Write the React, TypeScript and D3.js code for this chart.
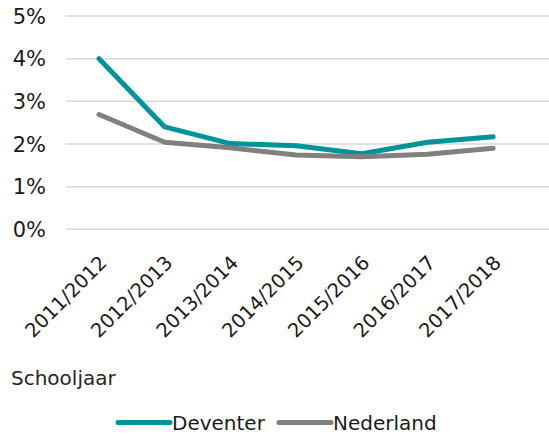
import React from "react";
import * as d3 from "d3";

const categories = ["2011/2012", "2012/2013", "2013/2014", "2014/2015", "2015/2016", "2016/2017", "2017/2018"];
const deventer = [0.040, 0.024, 0.0201, 0.0196, 0.0177, 0.0204, 0.0217];
const nederland = [0.0269, 0.0204, 0.0191, 0.0174, 0.0170, 0.0176, 0.0190];
const yTicks = [0, 0.01, 0.02, 0.03, 0.04, 0.05];
const xTitle = "Schooljaar";
const seriesNames = ["Deventer", "Nederland"];

const W = 549;
const H = 435;
const FONT = "'DejaVu Sans', Verdana, sans-serif";
const TEAL = "#00939A";
const GREY = "#808080";

export default function App() {
  const x = d3.scaleBand<string>().domain(categories).range([66.2, 526]).padding(0);
  const cx = (c: string) => (x(c) as number) + x.bandwidth() / 2;
  const y = d3.scaleLinear().domain([0, 0.05]).range([229.3, 16]);
  const fmt = d3.format(".0%");

  const line = d3
    .line<number>()
    .x((_, i) => cx(categories[i]))
    .y((d) => y(d));

  const series = [
    { name: seriesNames[0], values: deventer, color: TEAL },
    { name: seriesNames[1], values: nederland, color: GREY },
  ];

  return (
    <svg
      width={W}
      height={H}
      style={{ position: "absolute", left: 0, top: 0, background: "#fff" }}
      fontFamily={FONT}
    >
      {yTicks.map((t) => (
        <g key={t}>
          <line x1={66} x2={549} y1={y(t)} y2={y(t)} stroke="#d9d9d9" strokeWidth={1.5} />
          <text x={46} y={y(t)} dy="0.36em" textAnchor="end" fontSize={21} fill="#1a1a1a">
            {fmt(t)}
          </text>
        </g>
      ))}
      {series.map((s) => (
        <path
          key={s.name}
          d={line(s.values) || ""}
          fill="none"
          stroke={s.color}
          strokeWidth={5}
          strokeLinecap="round"
          strokeLinejoin="round"
        />
      ))}
      {categories.map((c) => (
        <text
          key={c}
          transform={`translate(${cx(c) + 9},${264}) rotate(-45)`}
          textAnchor="end"
          fontSize={19.5}
          fill="#1a1a1a"
        >
          {c}
        </text>
      ))}
      <text x={11} y={385} fontSize={20} fill="#262626">
        {xTitle}
      </text>
      {series.map((s, i) => {
        const lx = i === 0 ? 118 : 279;
        return (
          <g key={s.name}>
            <line x1={lx} x2={lx + 52} y1={422.5} y2={422.5} stroke={s.color} strokeWidth={5} strokeLinecap="round" />
            <text x={lx + 54} y={422.5} dy="0.36em" fontSize={20} fill="#1a1a1a">
              {s.name}
            </text>
          </g>
        );
      })}
    </svg>
  );
}
